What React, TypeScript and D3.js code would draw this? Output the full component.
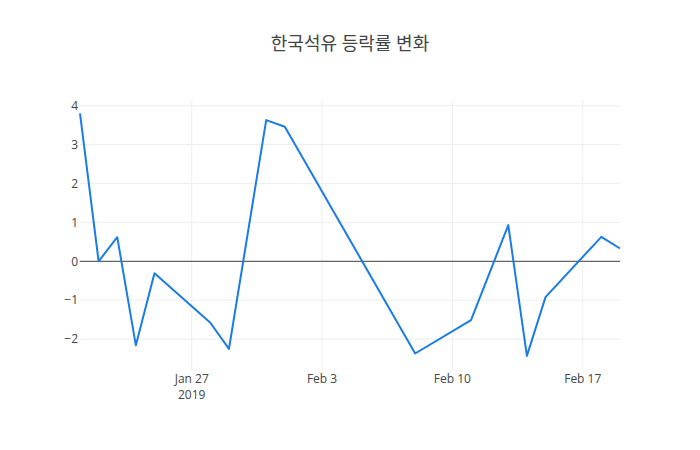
import React from "react";
import * as d3 from "d3";

const dates: string[] = [
  "2019-01-21", "2019-01-22", "2019-01-23", "2019-01-24", "2019-01-25",
  "2019-01-28", "2019-01-29", "2019-01-31", "2019-02-01", "2019-02-08",
  "2019-02-11", "2019-02-13", "2019-02-14", "2019-02-15", "2019-02-18",
  "2019-02-19",
];
const values: number[] = [
  3.80, 0.0, 0.62, -2.16, -0.31,
  -1.58, -2.25, 3.63, 3.46, -2.37,
  -1.51, 0.93, -2.43, -0.92, 0.63,
  0.33,
];
const yTicks: number[] = [-2, -1, 0, 1, 2, 3, 4];
const xTickDates: string[] = ["2019-01-27", "2019-02-03", "2019-02-10", "2019-02-17"];
const xTickLabels: string[] = ["Jan 27", "Feb 3", "Feb 10", "Feb 17"];
const title = "한국석유 등락률 변화";

const W = 700, H = 450;
const M = { l: 80, r: 80, t: 100, b: 80 };
const FONT = "'Open Sans', 'Noto Sans CJK KR', verdana, arial, sans-serif";

export default function App() {
  const parse = d3.utcParse("%Y-%m-%d");
  const pts = dates.map((d, i) => ({ x: parse(d) as Date, y: values[i] }));
  const x = d3
    .scaleUtc()
    .domain(d3.extent(pts, (p) => p.x) as [Date, Date])
    .range([M.l, W - M.r]);
  const y = d3.scaleLinear().domain([-2.794, 4.147]).range([H - M.b, M.t]);
  const line = d3
    .line<{ x: Date; y: number }>()
    .x((p) => x(p.x))
    .y((p) => y(p.y));
  const minus = (v: number) => (v < 0 ? "\u2212" + Math.abs(v) : String(v));

  return (
    <div style={{ position: "absolute", left: 0, top: 0 }}>
      <svg width={W} height={H} style={{ display: "block", background: "#fff" }}>
        {yTicks.map((t) => (
          <line key={"gy" + t} x1={M.l} x2={W - M.r} y1={y(t)} y2={y(t)} stroke="#eee" strokeWidth={1} />
        ))}
        {xTickDates.map((d) => {
          const xx = x(parse(d) as Date);
          return <line key={"gx" + d} x1={xx} x2={xx} y1={M.t} y2={H - M.b} stroke="#eee" strokeWidth={1} />;
        })}
        <line x1={M.l} x2={W - M.r} y1={y(0)} y2={y(0)} stroke="#444" strokeWidth={1} />
        <path d={line(pts) || ""} fill="none" stroke="#1a7ce8" strokeWidth={2} strokeLinejoin="round" />
        {yTicks.map((t) => (
          <text key={"ty" + t} x={M.l - 2} y={y(t)} dy="0.35em" textAnchor="end" fontSize={12} fill="#444" fontFamily={FONT}>
            {minus(t)}
          </text>
        ))}
        {xTickDates.map((d, i) => {
          const xx = x(parse(d) as Date);
          return (
            <text key={"tx" + d} x={xx} y={H - M.b + 4} textAnchor="middle" fontSize={12} fill="#444" fontFamily={FONT}>
              <tspan x={xx} dy="0.71em">{xTickLabels[i]}</tspan>
              {i === 0 ? <tspan x={xx} dy="1.35em">2019</tspan> : null}
            </text>
          );
        })}
        <text x={W / 2} y={44} dy="0.35em" textAnchor="middle" fontSize={18} fill="#444" fontFamily={FONT}>
          {title}
        </text>
      </svg>
    </div>
  );
}
